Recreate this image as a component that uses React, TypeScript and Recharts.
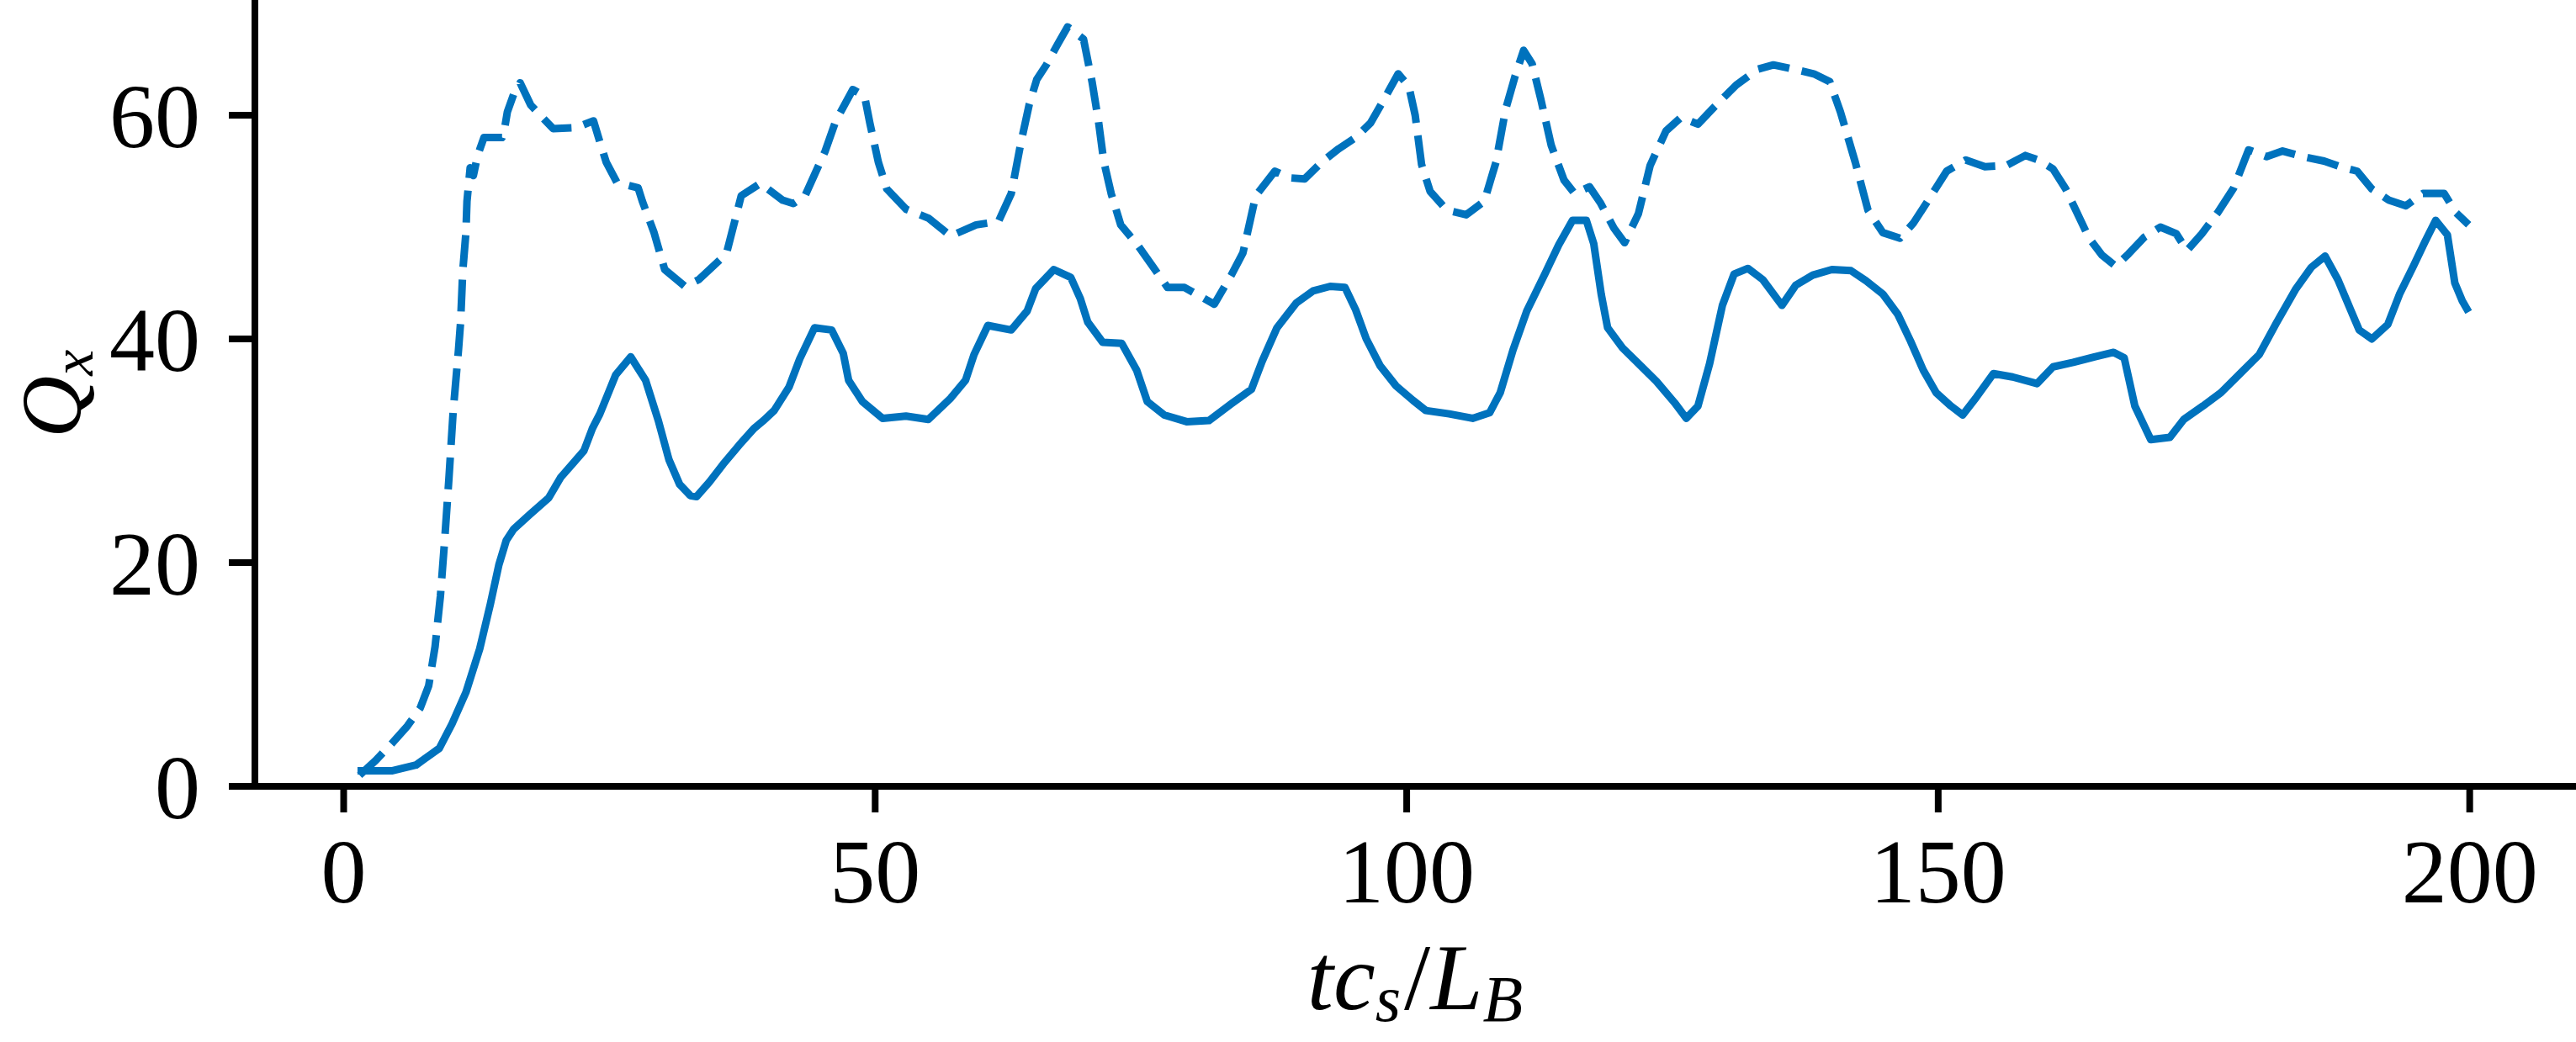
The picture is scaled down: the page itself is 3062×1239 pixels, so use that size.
import React from 'react';
import { LineChart, Line, XAxis, YAxis } from 'recharts';

const solidT = [1.3, 4.6, 6.8, 9.0, 10.2, 11.5, 12.8, 13.8, 14.6, 15.3, 16.0, 17.5, 19.3, 20.4, 21.5, 22.6, 23.4, 24.1, 25.6, 27.0, 28.4, 29.6, 30.6, 31.6, 32.6, 33.2, 34.4, 35.7, 37.2, 38.6, 39.5, 40.5, 41.9, 42.9, 44.3, 45.9, 47.0, 47.5, 48.8, 50.7, 52.9, 55.0, 57.1, 58.5, 59.3, 60.6, 62.8, 64.3, 65.1, 66.8, 68.4, 69.3, 70.0, 71.4, 73.2, 74.6, 75.6, 77.2, 79.3, 81.4, 83.5, 85.4, 86.4, 87.8, 89.6, 91.2, 92.8, 94.2, 95.2, 96.2, 97.5, 99.0, 100.6, 101.8, 104.0, 106.2, 107.8, 108.8, 110.0, 111.3, 113.0, 114.3, 115.6, 116.9, 117.6, 118.3, 118.9, 120.3, 121.8, 123.5, 125.2, 126.3, 127.4, 128.5, 129.7, 130.8, 132.1, 133.5, 135.3, 136.6, 138.2, 140.0, 141.8, 143.2, 144.8, 146.2, 147.4, 148.6, 149.8, 151.2, 152.3, 153.6, 155.2, 157.0, 159.3, 160.8, 162.7, 164.7, 166.5, 167.5, 168.5, 170.0, 171.8, 173.1, 174.9, 176.6, 178.3, 180.2, 181.8, 183.6, 185.1, 186.4, 187.6, 188.8, 189.6, 190.8, 192.3, 193.4, 194.7, 195.8, 196.8, 197.9, 198.6, 199.3, 199.9];
const solidQ = [1.4, 1.4, 1.9, 3.4, 5.6, 8.4, 12.3, 16.3, 19.8, 22.0, 23.0, 24.3, 25.8, 27.6, 28.8, 30.0, 32.0, 33.3, 36.8, 38.4, 36.3, 32.7, 29.2, 27.0, 26.0, 25.9, 27.2, 28.8, 30.5, 32.0, 32.7, 33.6, 35.7, 38.2, 41.0, 40.8, 38.7, 36.3, 34.4, 32.9, 33.1, 32.8, 34.7, 36.3, 38.6, 41.2, 40.8, 42.5, 44.5, 46.2, 45.5, 43.6, 41.5, 39.7, 39.6, 37.2, 34.4, 33.2, 32.6, 32.7, 34.2, 35.5, 38.0, 41.0, 43.2, 44.3, 44.7, 44.6, 42.6, 40.0, 37.6, 35.8, 34.5, 33.6, 33.3, 32.9, 33.4, 35.2, 39.0, 42.5, 45.8, 48.4, 50.6, 50.6, 48.5, 44.0, 41.0, 39.2, 37.8, 36.2, 34.3, 32.9, 34.0, 37.8, 43.0, 45.8, 46.3, 45.3, 43.0, 44.8, 45.7, 46.2, 46.1, 45.2, 44.0, 42.2, 39.8, 37.2, 35.2, 34.0, 33.2, 34.8, 36.9, 36.6, 36.0, 37.5, 37.9, 38.4, 38.8, 38.3, 34.0, 31.0, 31.2, 32.8, 34.0, 35.2, 36.8, 38.6, 41.4, 44.4, 46.4, 47.4, 45.3, 42.6, 40.8, 40.0, 41.3, 44.0, 46.5, 48.7, 50.6, 49.3, 45.0, 43.4, 42.4];

const dashedT = [1.5, 3.0, 4.5, 6.0, 7.2, 8.0, 8.6, 9.1, 9.5, 9.9, 10.3, 10.8, 11.0, 11.2, 11.5, 11.6, 11.9, 12.2, 12.6, 13.2, 14.9, 15.1, 15.4, 16.0, 16.6, 17.6, 18.6, 19.7, 21.9, 23.5, 24.2, 24.7, 25.7, 27.7, 28.1, 29.2, 30.2, 32.1, 33.4, 36.0, 37.4, 39.2, 41.3, 42.3, 43.4, 45.3, 46.3, 47.9, 49.0, 49.5, 50.3, 51.1, 52.9, 55.0, 57.1, 59.5, 61.6, 62.8, 63.7, 64.5, 65.2, 66.1, 67.2, 68.1, 69.6, 70.4, 71.0, 71.5, 72.2, 73.1, 74.6, 76.1, 77.5, 79.1, 81.9, 83.5, 84.6, 85.8, 87.6, 89.0, 90.4, 92.0, 93.6, 95.2, 96.6, 97.8, 99.2, 100.2, 100.8, 101.4, 102.2, 103.8, 105.6, 107.3, 108.4, 109.3, 110.2, 111.0, 111.8, 112.6, 113.6, 114.8, 115.8, 117.2, 118.2, 119.5, 120.5, 121.8, 122.9, 124.4, 125.8, 127.4, 129.0, 131.0, 133.0, 134.5, 136.5, 138.3, 139.8, 140.8, 142.2, 143.4, 144.8, 146.4, 147.7, 149.2, 150.8, 152.6, 154.4, 156.4, 158.2, 159.4, 160.8, 162.0, 163.1, 164.2, 165.4, 166.7, 167.9, 169.4, 170.9, 172.4, 173.4, 174.8, 176.3, 177.8, 179.2, 180.9, 182.4, 184.3, 186.3, 187.8, 189.4, 190.8, 192.4, 194.0, 195.6, 197.6, 198.7, 199.9];
const dashedQ = [1.0, 2.3, 3.8, 5.4, 7.0, 9.0, 12.5, 17.0, 22.0, 27.5, 33.5, 39.0, 41.5, 46.0, 49.5, 52.3, 55.3, 54.6, 56.4, 58.0, 58.0, 58.6, 60.3, 61.9, 62.9, 60.9, 59.9, 58.8, 58.9, 59.5, 57.3, 55.8, 54.0, 53.5, 52.3, 49.5, 46.2, 44.7, 45.3, 47.6, 52.8, 53.9, 52.4, 52.1, 52.8, 56.8, 59.5, 62.3, 61.7, 59.3, 55.8, 53.4, 51.6, 50.8, 49.2, 50.2, 50.5, 53.0, 57.5, 61.0, 63.2, 64.5, 66.4, 67.9, 66.8, 63.0, 59.5, 55.9, 53.0, 50.2, 48.5, 46.5, 44.6, 44.6, 43.1, 45.7, 47.7, 52.8, 55.0, 54.4, 54.3, 55.8, 57.0, 58.0, 59.3, 61.3, 63.7, 62.6, 60.0, 55.6, 53.2, 51.5, 51.1, 52.3, 55.8, 60.5, 63.5, 65.8, 64.6, 61.5, 57.3, 54.2, 53.0, 53.6, 52.2, 49.9, 48.6, 51.2, 55.5, 58.6, 59.8, 59.2, 60.8, 62.7, 64.1, 64.5, 64.1, 63.7, 63.0, 60.3, 55.8, 51.5, 49.5, 49.0, 50.4, 52.6, 55.0, 56.0, 55.4, 55.5, 56.4, 56.0, 55.2, 53.4, 51.2, 49.0, 47.5, 46.5, 47.6, 49.1, 50.0, 49.4, 47.9, 49.4, 51.3, 53.5, 56.9, 56.3, 56.8, 56.3, 55.9, 55.4, 55.0, 53.4, 52.4, 51.9, 53.0, 53.0, 51.3, 50.2];

const xTicks = [0, 50, 100, 150, 200];
const yTicks = [0, 20, 40, 60];

const solidData = solidT.map((t, i) => ({ t, q: solidQ[i] }));
const dashedData = dashedT.map((t, i) => ({ t, q: dashedQ[i] }));

const BLUE = '#0072BD';
const FONT = 'Liberation Serif';

const XLabel = () => (
  <text x={1682} y={1200} textAnchor="middle" fontFamily={FONT} fontSize={112} fill="#000">
    <tspan fontStyle="italic">tc</tspan>
    <tspan fontStyle="italic" fontSize={78} dy={14}>s</tspan>
    <tspan dy={-14} dx={4}>/</tspan>
    <tspan fontStyle="italic">L</tspan>
    <tspan fontStyle="italic" fontSize={78} dy={14}>B</tspan>
  </text>
);

const YLabel = () => (
  <text
    x={0}
    y={0}
    transform="translate(96,468) rotate(-90)"
    textAnchor="middle"
    fontFamily={FONT}
    fontSize={102}
    fill="#000"
  >
    <tspan fontStyle="italic">Q</tspan>
    <tspan fontStyle="italic" fontSize={70} dy={14}>x</tspan>
  </text>
);

export default function App() {
  return (
    <div style={{ position: 'absolute', left: 0, top: 0, width: 3062, height: 1239, background: '#fff' }}>
      <LineChart width={3062} height={1239} margin={{ top: 0, right: 0, bottom: 0, left: 0 }}>
        <XAxis
          type="number"
          dataKey="t"
          domain={[-8.35, 210]}
          ticks={xTicks}
          allowDataOverflow
          height={304}
          axisLine={{ stroke: '#000', strokeWidth: 8 }}
          tickLine={{ stroke: '#000', strokeWidth: 8 }}
          tickSize={31}
          tickMargin={30}
          tick={{ fill: '#000', fontSize: 108, fontFamily: FONT }}
          label={{ content: () => <XLabel /> }}
        />
        <YAxis
          type="number"
          dataKey="q"
          domain={[0, 70.3]}
          ticks={yTicks}
          allowDataOverflow
          width={303}
          axisLine={{ stroke: '#000', strokeWidth: 8 }}
          tickLine={{ stroke: '#000', strokeWidth: 8 }}
          tickSize={31}
          tickMargin={34}
          tick={{ fill: '#000', fontSize: 108, fontFamily: FONT }}
          label={{ content: () => <YLabel /> }}
        />
        <Line
          data={dashedData}
          dataKey="q"
          type="linear"
          stroke={BLUE}
          strokeWidth={9}
          strokeDasharray="38 15"
          strokeLinejoin="round"
          dot={false}
          activeDot={false}
          isAnimationActive={false}
        />
        <Line
          data={solidData}
          dataKey="q"
          type="linear"
          stroke={BLUE}
          strokeWidth={9}
          strokeLinejoin="round"
          dot={false}
          activeDot={false}
          isAnimationActive={false}
        />
      </LineChart>
    </div>
  );
}
